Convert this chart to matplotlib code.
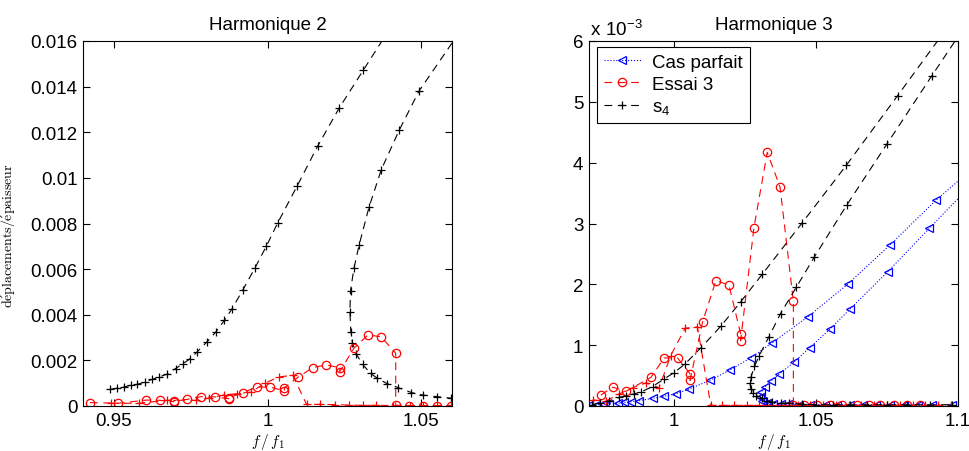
import matplotlib
matplotlib.use('Agg')
import matplotlib.pyplot as plt

plt.rcParams['font.family'] = ['Liberation Sans', 'DejaVu Sans']
plt.rcParams['font.size'] = 13.5
plt.rcParams['xtick.direction'] = 'in'
plt.rcParams['ytick.direction'] = 'in'
plt.rcParams['xtick.top'] = True
plt.rcParams['ytick.right'] = True

# ---- Harmonique 2 (amplitude en deplacement/epaisseur) ----
h2_s4_up_f = [0.9487, 0.9512, 0.9533, 0.9555, 0.9577, 0.9601, 0.9625, 0.9647, 0.9672, 0.9701,
              0.9726, 0.9749, 0.9771, 0.9803, 0.9833, 0.9860, 0.9884, 0.9920, 0.9960, 0.9996,
              1.0033, 1.0097, 1.0163, 1.0233, 1.0311, 1.0410]
h2_s4_up_a = [0.00073, 0.00078, 0.00083, 0.00091, 0.00095, 0.00105, 0.00117, 0.00127, 0.00139, 0.00164,
              0.00186, 0.00208, 0.00237, 0.00281, 0.00326, 0.00376, 0.00425, 0.00509, 0.00607, 0.00700,
              0.00802, 0.00966, 0.01139, 0.01306, 0.01471, 0.01680]

h2_s4_dn_f = [1.0625, 1.0492, 1.0428, 1.0370, 1.0330, 1.0298, 1.0281, 1.0270, 1.0268, 1.0271,
              1.0276, 1.0289, 1.0309, 1.0335, 1.0357, 1.0389, 1.0424, 1.0468, 1.0505, 1.0552, 1.0598]
h2_s4_dn_a = [0.0164, 0.01379, 0.01208, 0.01036, 0.00871, 0.00706, 0.00603, 0.00505, 0.00414, 0.00326,
              0.00278, 0.00227, 0.00183, 0.00143, 0.00122, 0.00098, 0.00081, 0.00059, 0.00048, 0.00041, 0.00034]

h2_e3_o_f = [0.9423, 0.9514, 0.9606, 0.9649, 0.9695, 0.9695, 0.9739, 0.9784, 0.9828, 0.9874,
             0.9874, 0.9920, 0.9965, 1.0009, 1.0055, 1.0055, 1.0100, 1.0147, 1.0190, 1.0235,
             1.0235, 1.0281, 1.0327, 1.0370, 1.0417, 1.0417, 1.0460, 1.0505, 1.0552, 1.0598]
h2_e3_o_a = [0.00015, 0.00012, 0.00026, 0.00025, 0.00019, 0.00024, 0.00029, 0.00041, 0.00040, 0.00032,
             0.00036, 0.00059, 0.00083, 0.00083, 0.00066, 0.00080, 0.00127, 0.00168, 0.00180, 0.00168,
             0.00151, 0.00253, 0.00312, 0.00303, 0.00231, 0.00003, 0.00002, 0.00002, 0.00002, 0.00002]

h2_e3_p_f = [0.9490, 0.9582, 0.9674, 0.9766, 0.9811, 0.9857, 0.9901, 0.9946, 0.9992, 1.0036,
             1.0082, 1.0127, 1.0171, 1.0219, 1.0266, 1.0309, 1.0354, 1.0408, 1.0462, 1.0505,
             1.0552, 1.0598]
h2_e3_p_a = [0.00012, 0.00012, 0.00025, 0.00025, 0.00035, 0.00048, 0.00054, 0.00061, 0.00100, 0.00127,
             0.00135, 0.00007, 0.00007, 0.00006, 0.00004, 0.00003, 0.00003, 0.00002, 0.00002, 0.00002,
             0.00002, 0.00002]

# ---- Harmonique 3 (valeurs en 1e-3) ----
h3_cp_up_f = [0.9701, 0.9725, 0.9748, 0.9772, 0.9801, 0.9824, 0.9848, 0.9877, 0.9924, 0.9965,
              1.0006, 1.0053, 1.0125, 1.0196, 1.0269, 1.0343, 1.0472, 1.0611, 1.0761, 1.0922, 1.1050]
h3_cp_up_a = [0.016, 0.016, 0.028, 0.033, 0.044, 0.060, 0.071, 0.088, 0.126, 0.16,
              0.20, 0.28, 0.42, 0.59, 0.79, 1.03, 1.47, 2.00, 2.65, 3.38, 3.90]

h3_cp_dn_f = [1.1050, 1.0899, 1.0753, 1.0621, 1.0548, 1.0478, 1.0422, 1.0369, 1.0340, 1.0319,
              1.0307, 1.0302, 1.0310, 1.0328, 1.0350, 1.0375, 1.0400, 1.0440, 1.0480, 1.0530,
              1.0575, 1.0620, 1.0665, 1.0710, 1.0760, 1.0810, 1.0860, 1.0910, 1.0980]
h3_cp_dn_a = [3.65, 2.92, 2.21, 1.60, 1.26, 0.96, 0.72, 0.52, 0.41, 0.31,
              0.23, 0.15, 0.09, 0.05, 0.04, 0.03, 0.03, 0.02, 0.02, 0.02,
              0.02, 0.02, 0.02, 0.02, 0.02, 0.02, 0.02, 0.02, 0.02]

h3_s4_up_f = [0.9710, 0.9740, 0.9772, 0.9807, 0.9830, 0.9859, 0.9883, 0.9924, 0.9963, 1.0000,
              1.0038, 1.0095, 1.0164, 1.0234, 1.0311, 1.0451, 1.0607, 1.0787, 1.1003]
h3_s4_up_a = [0.02, 0.05, 0.087, 0.14, 0.17, 0.20, 0.23, 0.32, 0.44, 0.55,
              0.69, 0.96, 1.31, 1.71, 2.17, 3.01, 3.96, 5.10, 6.48]

h3_s4_dn_f = [1.1040, 1.0908, 1.0750, 1.0609, 1.0494, 1.0430, 1.0375, 1.0334, 1.0299, 1.0283,
              1.0271, 1.0267, 1.0270, 1.0278, 1.0290, 1.0311, 1.0328, 1.0346, 1.0375, 1.0404,
              1.0450, 1.0500, 1.0560, 1.0620, 1.0680, 1.0750, 1.0820, 1.0900, 1.0980]
h3_s4_dn_a = [6.35, 5.43, 4.31, 3.31, 2.45, 1.95, 1.52, 1.14, 0.82, 0.65,
              0.48, 0.38, 0.28, 0.22, 0.17, 0.13, 0.09, 0.06, 0.05, 0.045,
              0.03, 0.02, 0.02, 0.02, 0.02, 0.02, 0.02, 0.02, 0.02]

h3_e3_o_f = [0.9742, 0.9783, 0.9830, 0.9918, 0.9965, 1.0012, 1.0056, 1.0056, 1.0100, 1.0147,
             1.0193, 1.0234, 1.0234, 1.0281, 1.0328, 1.0373, 1.0420, 1.0420, 1.0457, 1.0504,
             1.0550, 1.0592, 1.0644, 1.0685, 1.0726, 1.0773, 1.0820, 1.0867]
h3_e3_o_a = [0.18, 0.31, 0.24, 0.47, 0.79, 0.79, 0.53, 0.42, 1.38, 2.06,
             1.99, 1.19, 1.07, 2.93, 4.17, 3.60, 1.72, 0.01, 0.01, 0.01,
             0.01, 0.01, 0.01, 0.01, 0.01, 0.01, 0.01, 0.01]

h3_e3_p_f = [0.9713, 0.9760, 0.9807, 0.9854, 0.9901, 0.9947, 0.9988, 1.0039, 1.0082, 1.0129,
             1.0170, 1.0212, 1.0258, 1.0300, 1.0345, 1.0390, 1.0435, 1.0480, 1.0525, 1.0570,
             1.0615, 1.0660, 1.0705, 1.0750, 1.0795, 1.0840, 1.0885, 1.0930, 1.0975]
h3_e3_p_a = [0.10, 0.08, 0.20, 0.30, 0.38, 0.30, 0.83, 1.28, 1.30, 0.01,
             0.01, 0.01, 0.01, 0.01, 0.01, 0.01, 0.01, 0.01, 0.01, 0.01,
             0.01, 0.01, 0.01, 0.01, 0.01, 0.01, 0.01, 0.01, 0.01]

h2_yticks = [0, 0.002, 0.004, 0.006, 0.008, 0.01, 0.012, 0.014, 0.016]
h2_yticklabels = ['0', '0.002', '0.004', '0.006', '0.008', '0.01', '0.012', '0.014', '0.016']
h2_xticks = [0.95, 1, 1.05]
h2_xticklabels = ['0.95', '1', '1.05']
h3_xticks = [1, 1.05, 1.1]
h3_xticklabels = ['1', '1.05', '1.1']
h3_yticks = [0, 1, 2, 3, 4, 5, 6]

fig = plt.figure(figsize=(9.69, 4.52), dpi=100)
ax1 = fig.add_axes([83 / 969, 45 / 452, 369 / 969, 365 / 452])
ax2 = fig.add_axes([589 / 969, 45 / 452, 369 / 969, 365 / 452])

lw = 0.8
dash = (7, 5)
ms = 6

# Harmonique 2
ax1.plot(h2_s4_up_f, h2_s4_up_a, color='k', ls='--', dashes=dash, lw=lw, marker='+', ms=ms, mew=0.9)
ax1.plot(h2_s4_dn_f, h2_s4_dn_a, color='k', ls='--', dashes=dash, lw=lw, marker='+', ms=ms, mew=0.9)
ax1.plot(h2_e3_p_f, h2_e3_p_a, color='r', ls='--', dashes=dash, lw=lw, marker='+', ms=ms, mew=0.9)
ax1.plot(h2_e3_o_f, h2_e3_o_a, color='r', ls='--', dashes=dash, lw=lw, marker='o', ms=ms,
         mfc='none', mew=0.9)
ax1.set_xlim(0.94, 1.06)
ax1.set_ylim(0, 0.016)
ax1.set_xticks(h2_xticks)
ax1.set_xticklabels(h2_xticklabels)
ax1.set_yticks(h2_yticks)
ax1.set_yticklabels(h2_yticklabels)
ax1.set_title('Harmonique 2', fontsize=13.5, pad=9)
ax1.set_xlabel(r'$f\,/\,f_1$', fontsize=11, math_fontfamily='cm', labelpad=2)
ax1.set_ylabel(r'$\mathrm{d\acute{e}placements/\acute{e}paisseur}$', fontsize=10, math_fontfamily='cm')
ax1.yaxis.set_label_coords(-0.18, 0.47)

# Harmonique 3
l1, = ax2.plot(h3_cp_up_f, h3_cp_up_a, color='b', ls=':', lw=lw, marker='<', ms=ms, mfc='none', mew=0.9)
ax2.plot(h3_cp_dn_f, h3_cp_dn_a, color='b', ls=':', lw=lw, marker='<', ms=ms, mfc='none', mew=0.9)
ax2.plot(h3_e3_p_f, h3_e3_p_a, color='r', ls='--', dashes=dash, lw=lw, marker='+', ms=ms, mew=0.9)
l2, = ax2.plot(h3_e3_o_f, h3_e3_o_a, color='r', ls='--', dashes=dash, lw=lw, marker='o', ms=ms,
               mfc='none', mew=0.9)
l3, = ax2.plot(h3_s4_up_f, h3_s4_up_a, color='k', ls='--', dashes=dash, lw=lw, marker='+', ms=ms, mew=0.9)
ax2.plot(h3_s4_dn_f, h3_s4_dn_a, color='k', ls='--', dashes=dash, lw=lw, marker='+', ms=ms, mew=0.9)
ax2.set_xlim(0.97, 1.1)
ax2.set_ylim(0, 6)
ax2.set_xticks(h3_xticks)
ax2.set_xticklabels(h3_xticklabels)
ax2.set_yticks(h3_yticks)
ax2.set_title('Harmonique 3', fontsize=13.5, pad=9)
ax2.set_xlabel(r'$f\,/\,f_1$', fontsize=11, math_fontfamily='cm', labelpad=2)
ax2.text(0.003, 1.016, r'$\mathregular{x\ 10^{-3}}$', transform=ax2.transAxes,
         ha='left', va='baseline', fontsize=13.5)

leg = ax2.legend([l1, l2, l3], ['Cas parfait', 'Essai 3', r'$\mathregular{s_4}$'],
                 loc='upper left', bbox_to_anchor=(0.022, 0.984), borderaxespad=0,
                 fancybox=False, framealpha=1, edgecolor='k', fontsize=13.5,
                 handlelength=2.0, labelspacing=0.28, borderpad=0.35, handletextpad=0.6)
leg.get_frame().set_linewidth(0.8)

for ax in (ax1, ax2):
    ax.tick_params(length=5, width=0.8, pad=4, labelsize=13.5)
    for s in ax.spines.values():
        s.set_linewidth(0.8)

plt.savefig('out.png', dpi=100)
